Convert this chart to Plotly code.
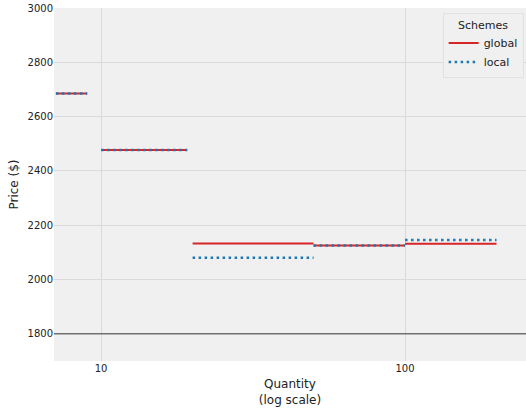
import plotly.graph_objects as go

# Data: price schedule segments (quantity ranges, log scale)
seg_start = [7.1, 10, 20, 50, 100]
seg_end = [9, 19.2, 50, 100, 200]
global_price = [2685, 2477, 2133, 2125, 2132]
local_price = [2685, 2477, 2080, 2125, 2146]
baseline = 1800

def segs(starts, ends, vals):
    xs, ys = [], []
    for a, b, v in zip(starts, ends, vals):
        xs += [a, b, None]
        ys += [v, v, None]
    return xs, ys

fig = go.Figure()
gx, gy = segs(seg_start, seg_end, global_price)
lx, ly = segs(seg_start, seg_end, local_price)

fig.add_trace(go.Scatter(x=gx, y=gy, mode="lines", name="global",
                         line=dict(color="#d62728", width=2)))
fig.add_trace(go.Scatter(x=lx, y=ly, mode="lines", name="local",
                         line=dict(color="#1f77b4", width=2.5, dash="2.5px,3.5px")))

fig.add_hline(y=baseline, line=dict(color="#707070", width=1.5))

fig.update_layout(
    width=526, height=410,
    margin=dict(l=54, r=0, t=8, b=49),
    paper_bgcolor="white", plot_bgcolor="#f0f0f0",
    font=dict(family="DejaVu Sans", color="#222222", size=10),
    showlegend=True,
    legend=dict(title=dict(text="Schemes", side="top center", font=dict(size=11)),
                x=0.995, y=0.985, xanchor="right", yanchor="top",
                bgcolor="#f0f0f0", bordercolor="#e2e2e2", borderwidth=1,
                font=dict(size=11), itemwidth=30),
    xaxis=dict(type="log", range=[0.845, 2.398],
               tickvals=[10, 100], ticktext=["10", "100"],
               showgrid=True, gridcolor="#dadada", gridwidth=1,
               zeroline=False, showline=False, ticks="",
               title=dict(text="Quantity<br>(log scale)", font=dict(size=12), standoff=6)),
    yaxis=dict(range=[1700, 3000], tickvals=[1800, 2000, 2200, 2400, 2600, 2800, 3000],
               showgrid=True, gridcolor="#dadada", gridwidth=1,
               zeroline=False, showline=False, ticks="",
               title=dict(text="Price ($)", font=dict(size=12), standoff=6)),
)

fig.write_html("out.html")
